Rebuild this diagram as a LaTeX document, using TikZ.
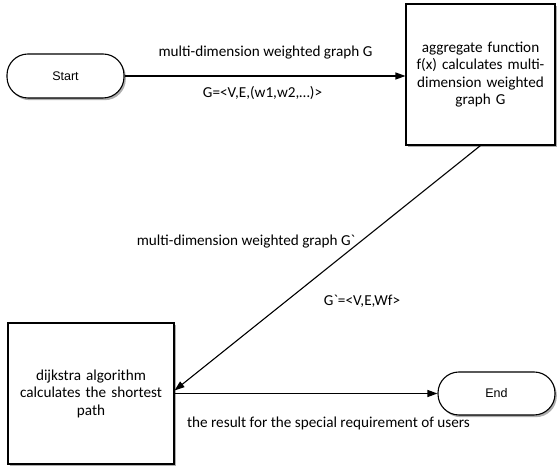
\documentclass[tikz,border=0pt]{standalone}
\usepackage{fontspec}
\setmainfont{Carlito}
\newfontfamily\termfont{Liberation Sans}
\usetikzlibrary{arrows.meta,shadows}
\begin{document}
\begin{tikzpicture}[x=1pt,y=1pt,
  shade/.style={drop shadow={shadow xshift=1.8pt,shadow yshift=-2.2pt,opacity=0.45,fill=black!70}},
  terminal/.style={draw,line width=1.1pt,fill=white,rounded corners=21pt,shade,
    minimum width=117pt,minimum height=44pt,inner sep=0pt,font=\termfont\fontsize{12.5}{14}\selectfont},
  process/.style={draw,line width=1.1pt,fill=white,shade,inner sep=4pt,align=center,
    font=\fontsize{15.2}{17.5}\selectfont},
  flow/.style={line width=1.1pt,-{Triangle[length=10pt,width=7pt]}},
  lbl/.style={font=\fontsize{15.2}{17.5}\selectfont,inner sep=0pt}]
\useasboundingbox (0,0) rectangle (558,471);
% terminals and processing steps
\node[terminal] (start) at (65.5,395) {Start};
\node[process,minimum width=149pt,minimum height=141pt,text width=140pt] (agg) at (480.5,396.5)
  {aggregate function\\ f(x) calculates multi-\\ dimension weighted\\ graph G};
\node[process,minimum width=166pt,minimum height=141pt,text width=158pt] (dijk) at (91,77.5)
  {dijkstra algorithm\\ calculates the shortest\\ path};
\node[terminal,minimum height=43pt] (end) at (496.5,77.5) {End};
% connectors
\coordinate (dtip) at ([yshift=3pt]dijk.east);
\draw[flow] (start.east) -- (start.east -| agg.west);
\draw[flow] (agg.south) -- (dtip);
\draw[flow] (dijk.east) -- (end.west);
% edge labels
\node[lbl] (l1) at (265.5,418) {multi-dimension weighted graph G};
\node[lbl] (l2) at (262.5,378) {G=<V,E,(w1,w2,…)>};
\node[lbl] (l3) at (246,229) {multi-dimension weighted graph G\textasciigrave};
\node[lbl] (l4) at (362,170) {G\textasciigrave=<V,E,Wf>};
\node[lbl] (l5) at (328.5,48) {the result for the special requirement of users};
\end{tikzpicture}
\end{document}
